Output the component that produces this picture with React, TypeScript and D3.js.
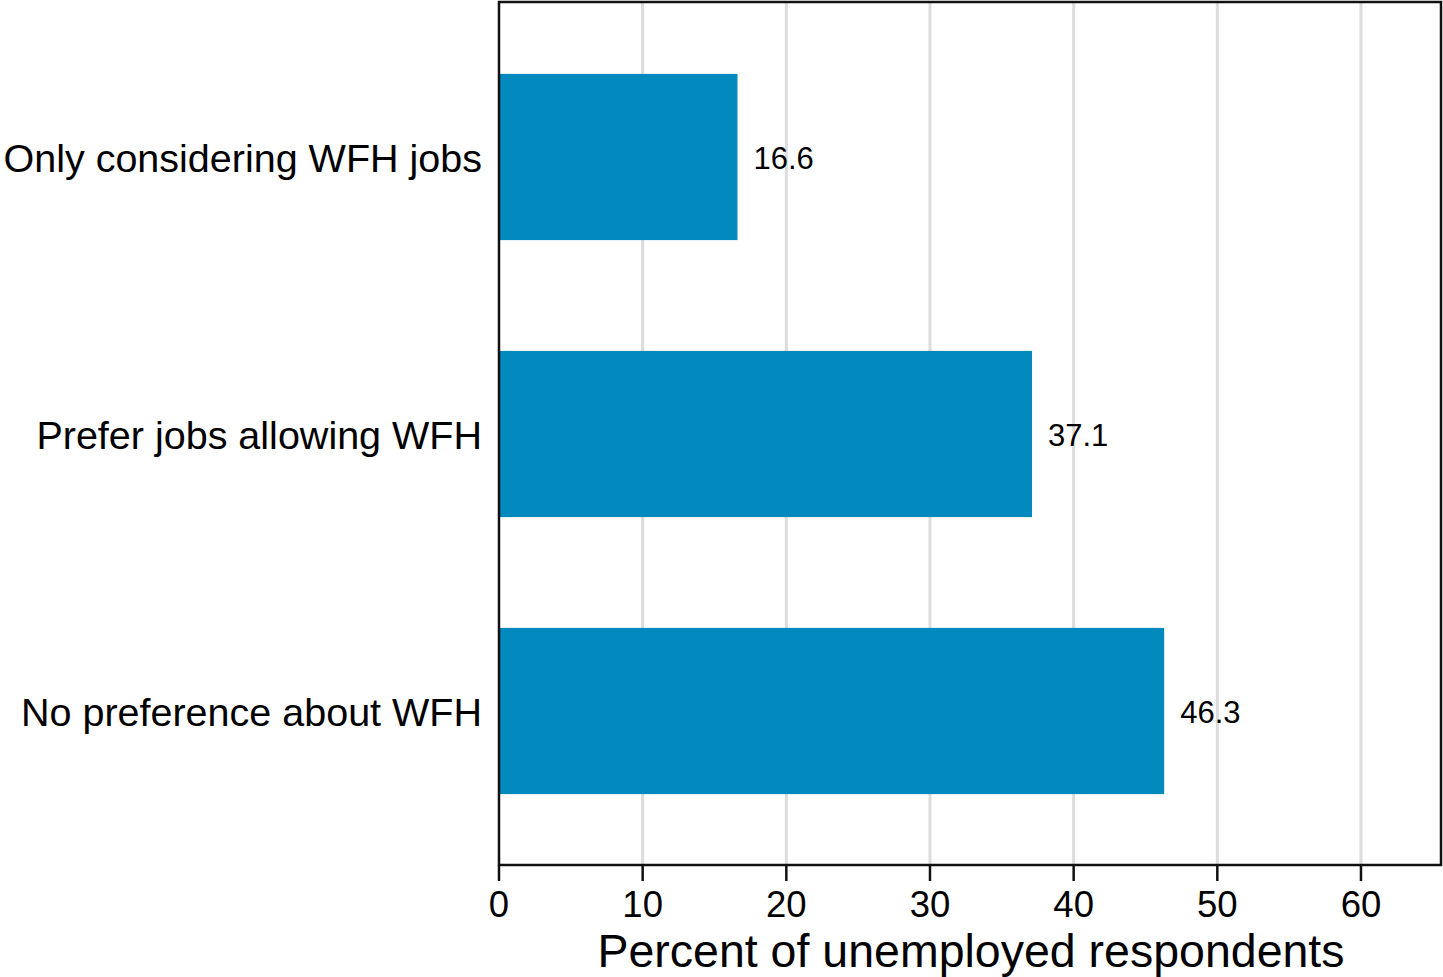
import React from "react";
import * as d3 from "d3";

const categories = ["Only considering WFH jobs", "Prefer jobs allowing WFH", "No preference about WFH"];
const values = [16.6, 37.1, 46.3];
const tickValues = [0, 10, 20, 30, 40, 50, 60];
const xTitle = "Percent of unemployed respondents";

const W = 1443;
const H = 977;
const left = 499;
const right = 1441;
const top = 2;
const bottom = 865;
const FONT = "'Liberation Sans', Arial, Helvetica, sans-serif";

export default function App() {
  const x = d3.scaleLinear().domain([0, 65.57]).range([left, right]);
  const y = d3.scaleBand<string>().domain(categories).range([18.5, 849.5]).paddingInner(0.4).paddingOuter(0.2);
  return (
    <svg width={W} height={H} style={{ position: "absolute", left: 0, top: 0, background: "#fff" }} fontFamily={FONT}>
      <rect x={0} y={0} width={W} height={H} fill="#fff" />
      {tickValues.filter((t) => t > 0).map((t) => (
        <line key={"g" + t} x1={x(t)} x2={x(t)} y1={top} y2={bottom} stroke="#dcdcdc" strokeWidth={3} />
      ))}
      {categories.map((c, i) => (
        <g key={c}>
          <rect x={x(0)} y={y(c)} width={x(values[i]) - x(0)} height={y.bandwidth()} fill="#028abe" />
          <text x={x(values[i]) + 16} y={(y(c) as number) + y.bandwidth() / 2} dy="0.4em" fontSize={31} fill="#000">
            {values[i].toFixed(1)}
          </text>
          <text x={482} y={(y(c) as number) + y.bandwidth() / 2} dy="0.38em" fontSize={39.5} textAnchor="end" fill="#000">
            {c}
          </text>
        </g>
      ))}
      <rect x={left} y={top} width={right - left} height={bottom - top} fill="none" stroke="#111" strokeWidth={2.5} />
      {tickValues.map((t) => (
        <g key={"t" + t}>
          <line x1={x(t)} x2={x(t)} y1={bottom} y2={bottom + 16} stroke="#111" strokeWidth={2.5} />
          <text x={x(t)} y={917} textAnchor="middle" fontSize={36.5} fill="#000">
            {t}
          </text>
        </g>
      ))}
      <text x={971} y={966.5} textAnchor="middle" fontSize={46.5} fill="#000">
        {xTitle}
      </text>
    </svg>
  );
}
